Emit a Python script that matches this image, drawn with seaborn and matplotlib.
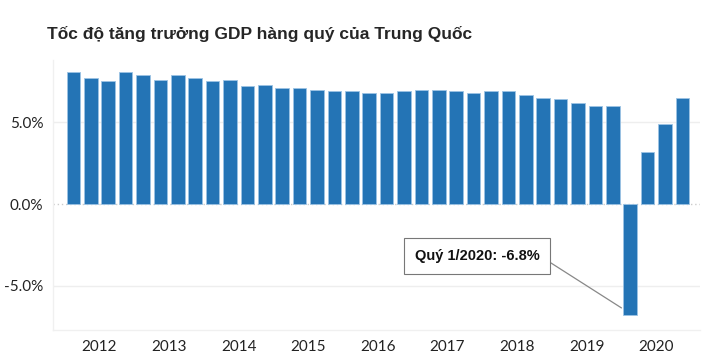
import pandas as pd
import seaborn as sns
import matplotlib.pyplot as plt

sns.set_style("white")

# quarterly GDP growth, % (2012 Q1 .. 2020 Q4)
years = ["2012", "2013", "2014", "2015", "2016", "2017", "2018", "2019", "2020"]
quarters = [f"{y}Q{q}" for y in years for q in range(1, 5)]
growth = [8.1, 7.7, 7.5, 8.1, 7.9, 7.6, 7.9, 7.7, 7.5, 7.6, 7.2, 7.3,
          7.1, 7.1, 7.0, 6.9, 6.9, 6.8, 6.8, 6.9, 7.0, 7.0, 6.9, 6.8,
          6.9, 6.9, 6.7, 6.5, 6.4, 6.2, 6.0, 6.0, -6.8, 3.2, 4.9, 6.5]
yticks = [-5.0, 0.0, 5.0]
note = "Quý 1/2020: -6.8%"

df = pd.DataFrame({"quarter": quarters, "growth": growth})

fig = plt.figure(figsize=(7.1, 3.56), dpi=100)
ax = fig.add_axes([0.0746, 0.073, 0.911, 0.758])

sns.barplot(data=df, x="quarter", y="growth", color="#2474b5", saturation=1,
            width=0.78, edgecolor="#9cc3e4", linewidth=0.6, ax=ax)

ax.set_xlim(-1.17, 36.0)
ax.set_ylim(-7.7, 8.8)

ax.set_yticks(yticks)
ax.set_yticklabels([f"{v:.1f}%" for v in yticks], family="Lato", fontsize=11, color="#222222")
ax.set_xticks([1.5 + 4 * i for i in range(len(years))])
ax.set_xticklabels(years, family="Lato", fontsize=11, color="#222222")
ax.tick_params(axis="both", length=0, pad=7)
ax.set_xlabel("")
ax.set_ylabel("")

for v in [-5.0, 5.0]:
    ax.axhline(v, color="#eeeeee", lw=1, zorder=0)
ax.axhline(0, color="#cccccc", lw=1, ls=(0, (1, 2)), zorder=0)

for s in ["top", "right"]:
    ax.spines[s].set_visible(False)
for s in ["left", "bottom"]:
    ax.spines[s].set_color("#f0f0f0")
    ax.spines[s].set_linewidth(1)

ax.annotate(note, xy=(31.5, -6.35), xytext=(23.2, -3.15),
            ha="center", va="center", fontsize=10.5, fontweight="bold",
            family="Liberation Sans", color="#111111",
            bbox=dict(boxstyle="square,pad=0.75", fc="white", ec="#777777", lw=0.8),
            arrowprops=dict(arrowstyle="-", color="#888888", lw=0.9,
                            relpos=(1, 0.5), shrinkA=0, shrinkB=0))

fig.text(0.066, 0.905, "Tốc độ tăng trưởng GDP hàng quý của Trung Quốc",
         fontsize=12.5, fontweight="bold", family="Liberation Sans", va="center")

fig.savefig("out.png", dpi=100)
